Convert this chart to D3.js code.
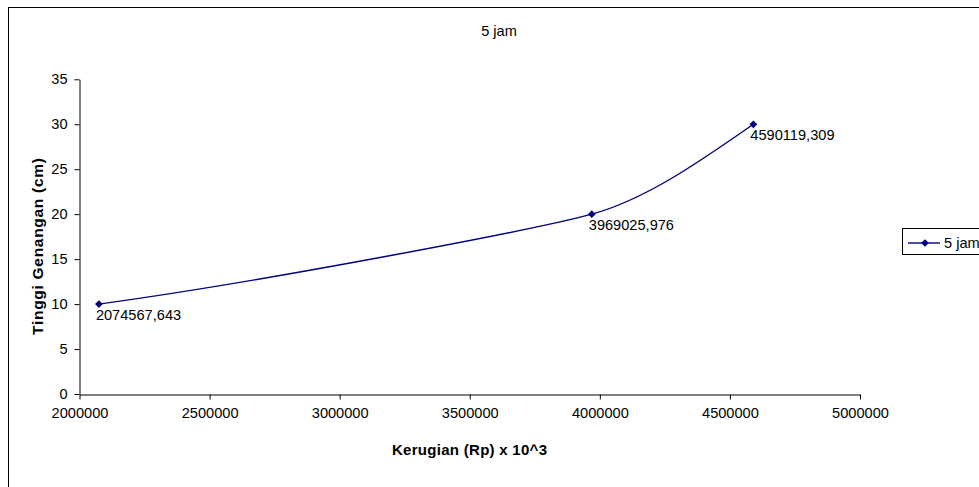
<!DOCTYPE html>
<html>
<head>
<meta charset="utf-8">
<script src="https://cdn.jsdelivr.net/npm/d3@7"></script>
<style>
  body { margin: 0; background: #fff; }
  text { font-family: "Liberation Sans", Arial, sans-serif; }
</style>
</head>
<body>
<div id="chart"></div>
<script>
// data
var seriesName = "5 jam";
var kerugian = [2074567.643, 3969025.976, 4590119.309];
var tinggi = [10, 20, 30];
var pointLabels = ["2074567,643", "3969025,976", "4590119,309"];
var xTicks = [2000000, 2500000, 3000000, 3500000, 4000000, 4500000, 5000000];
var yTicks = [0, 5, 10, 15, 20, 25, 30, 35];

var width = 979, height = 487;
var navy = "#000080";

var svg = d3.select("#chart").append("svg")
    .attr("width", width)
    .attr("height", height);

// outer chart border (right and bottom fall outside the picture)
svg.append("rect")
    .attr("x", 8.5).attr("y", 7.5)
    .attr("width", 990).attr("height", 500)
    .attr("fill", "#fff")
    .attr("stroke", "#000")
    .attr("stroke-width", 1);

// scales
var x = d3.scaleLinear().domain([2000000, 5000000]).range([79.5, 860]);
var y = d3.scaleLinear().domain([0, 35]).range([394, 79.3]);

// title
svg.append("text")
    .attr("x", 499).attr("y", 36)
    .attr("text-anchor", "middle")
    .attr("font-size", "14.6px")
    .text(seriesName);

// y axis
var yAxis = svg.append("g")
    .attr("transform", "translate(79.5,0)")
    .call(d3.axisLeft(y).tickValues(yTicks).tickSize(5).tickPadding(7).tickSizeOuter(0));
yAxis.select(".domain").attr("stroke", "#000");
yAxis.selectAll(".tick line").attr("stroke", "#000");
yAxis.selectAll(".tick text")
    .attr("font-family", "Liberation Sans, Arial, sans-serif")
    .attr("font-size", "14.6px")
    .attr("fill", "#000");

// x axis
var xAxis = svg.append("g")
    .attr("transform", "translate(0,394.5)")
    .call(d3.axisBottom(x).tickValues(xTicks).tickFormat(d3.format("d")).tickSize(5).tickPadding(8).tickSizeOuter(0));
xAxis.select(".domain").attr("stroke", "#000");
xAxis.selectAll(".tick line").attr("stroke", "#000");
xAxis.selectAll(".tick text")
    .attr("font-family", "Liberation Sans, Arial, sans-serif")
    .attr("font-size", "14.6px")
    .attr("fill", "#000");

// axis titles
svg.append("text")
    .attr("x", 469.5).attr("y", 455)
    .attr("text-anchor", "middle")
    .attr("font-size", "15px")
    .attr("font-weight", "bold")
    .attr("textLength", 155)
    .attr("lengthAdjust", "spacing")
    .text("Kerugian (Rp) x 10^3");

svg.append("text")
    .attr("transform", "translate(43,246.5) rotate(-90)")
    .attr("text-anchor", "middle")
    .attr("font-size", "15.5px")
    .attr("font-weight", "bold")
    .attr("textLength", 177)
    .attr("lengthAdjust", "spacing")
    .text("Tinggi Genangan (cm)");

// smoothed series line (Excel-like smoothing: harmonic-mean tangents,
// handles a third of the shorter neighbouring step)
var points = kerugian.map(function (d, i) { return [d, tinggi[i]]; });
var px = points.map(function (d) { return [x(d[0]), y(d[1])]; });
var n = px.length;
var h = [], s = [];
for (var i = 0; i < n - 1; i++) {
    h.push(px[i + 1][0] - px[i][0]);
    s.push((px[i + 1][1] - px[i][1]) / h[i]);
}
var m = [], L = [];
for (var i = 1; i < n - 1; i++) {
    m[i] = (s[i - 1] * s[i] <= 0) ? 0 : 2 / (1 / s[i - 1] + 1 / s[i]);
    L[i] = Math.min(h[i - 1], h[i]) / 3;
}
m[0] = (3 * s[0] - m[1]) / 2;
m[n - 1] = (3 * s[n - 2] - m[n - 2]) / 2;
L[0] = h[0] / 3;
L[n - 1] = h[n - 2] / 3;

var p = d3.path();
p.moveTo(px[0][0], px[0][1]);
for (var i = 0; i < n - 1; i++) {
    p.bezierCurveTo(
        px[i][0] + L[i], px[i][1] + m[i] * L[i],
        px[i + 1][0] - L[i + 1], px[i + 1][1] - m[i + 1] * L[i + 1],
        px[i + 1][0], px[i + 1][1]);
}

svg.append("path")
    .attr("d", p.toString())
    .attr("fill", "none")
    .attr("stroke", navy)
    .attr("stroke-width", 1.4);

// diamond markers
var diamond = d3.symbol().type(d3.symbolSquare).size(30);
svg.selectAll("path.marker")
    .data(points)
    .enter()
    .append("path")
    .attr("class", "marker")
    .attr("d", diamond)
    .attr("transform", function (d) { return "translate(" + x(d[0]) + "," + y(d[1]) + ") rotate(45)"; })
    .attr("fill", navy);

// data labels
svg.selectAll("text.plabel")
    .data(points)
    .enter()
    .append("text")
    .attr("class", "plabel")
    .attr("x", function (d) { return x(d[0]) - 3; })
    .attr("y", function (d) { return y(d[1]) + 16; })
    .attr("font-size", "14.6px")
    .text(function (d, i) { return pointLabels[i]; });

// legend
var legend = svg.append("g");
legend.append("rect")
    .attr("x", 902.5).attr("y", 228.5)
    .attr("width", 100).attr("height", 26)
    .attr("fill", "#fff")
    .attr("stroke", "#000");
legend.append("line")
    .attr("x1", 908).attr("x2", 940)
    .attr("y1", 243).attr("y2", 243)
    .attr("stroke", navy)
    .attr("stroke-width", 1.4);
legend.append("path")
    .attr("d", diamond)
    .attr("transform", "translate(925,243) rotate(45)")
    .attr("fill", navy);
legend.append("text")
    .attr("x", 944).attr("y", 248)
    .attr("font-size", "14.6px")
    .text(seriesName);
</script>
</body>
</html>
